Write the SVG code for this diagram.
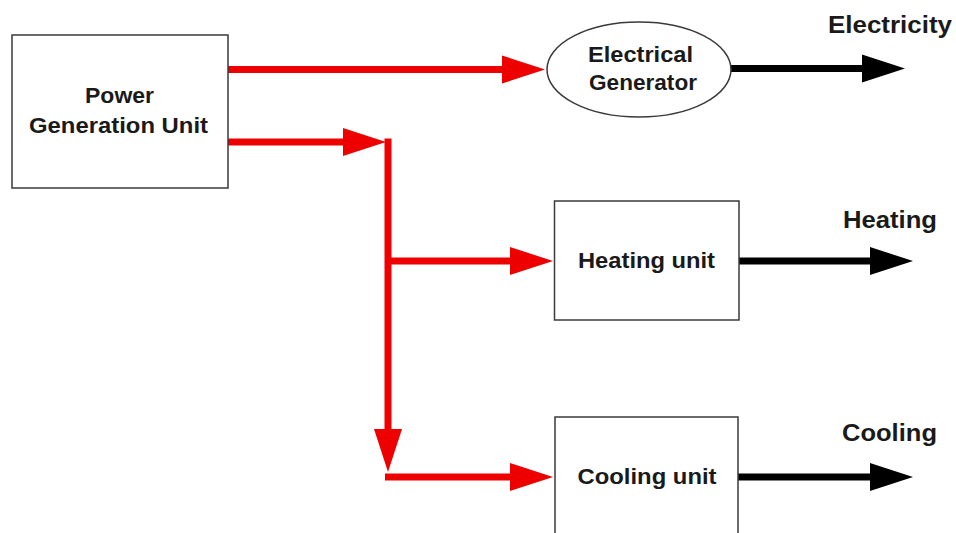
<svg xmlns="http://www.w3.org/2000/svg" width="956" height="533" viewBox="0 0 956 533">
  <style>
    .box { fill: #ffffff; stroke: #3a3a3a; stroke-width: 1.5; }
    .lbl { font-family: "Liberation Sans", Arial, sans-serif; font-weight: bold; font-size: 22px; fill: #1a1a1a; text-anchor: middle; }
    .out { font-family: "Liberation Sans", Arial, sans-serif; font-weight: bold; font-size: 24px; fill: #1a1a1a; }
    .red { stroke: #ef0000; stroke-width: 7; fill: none; }
    .blk { stroke: #000000; stroke-width: 7; fill: none; stroke-linecap: round; }
  </style>
  <defs>
    <marker id="ahRed" markerUnits="userSpaceOnUse" markerWidth="44" markerHeight="30" viewBox="0 0 44 30" refX="3" refY="15" orient="auto">
      <path d="M0,1 L43,15 L0,29 z" fill="#ef0000"/>
    </marker>
    <marker id="ahBlk" markerUnits="userSpaceOnUse" markerWidth="44" markerHeight="30" viewBox="0 0 44 30" refX="3" refY="15" orient="auto">
      <path d="M0,1 L43,15 L0,29 z" fill="#000000"/>
    </marker>
  </defs>
  <rect width="956" height="533" fill="#ffffff"/>

  <g id="connectors">
    <line class="red" x1="228" y1="69.5" x2="505" y2="69.5" marker-end="url(#ahRed)"/>
    <line class="red" x1="228" y1="142" x2="346" y2="142" marker-end="url(#ahRed)"/>
    <line class="red" x1="388" y1="138.5" x2="388" y2="432" marker-end="url(#ahRed)"/>
    <line class="red" x1="388" y1="261" x2="513" y2="261" marker-end="url(#ahRed)"/>
    <line class="red" x1="385" y1="477" x2="513" y2="477" marker-end="url(#ahRed)"/>
    <line class="blk" x1="731" y1="68.5" x2="865" y2="68.5" marker-end="url(#ahBlk)"/>
    <line class="blk" x1="739" y1="261" x2="873" y2="261" marker-end="url(#ahBlk)"/>
    <line class="blk" x1="739" y1="477" x2="873" y2="477" marker-end="url(#ahBlk)"/>
  </g>

  <g id="pgu">
    <rect class="box" x="12" y="35" width="216" height="153"/>
    <text class="lbl" x="119.5" y="103" textLength="69" lengthAdjust="spacingAndGlyphs">Power</text>
    <text class="lbl" x="118.5" y="133" textLength="179" lengthAdjust="spacingAndGlyphs">Generation Unit</text>
  </g>

  <g id="generator">
    <ellipse class="box" cx="639" cy="69.5" rx="92" ry="47.5"/>
    <text class="lbl" x="640.5" y="62" textLength="105" lengthAdjust="spacingAndGlyphs">Electrical</text>
    <text class="lbl" x="643" y="90" textLength="108" lengthAdjust="spacingAndGlyphs">Generator</text>
  </g>

  <g id="heating-unit">
    <rect class="box" x="554.5" y="201" width="184.5" height="119"/>
    <text class="lbl" x="646.5" y="268" textLength="137" lengthAdjust="spacingAndGlyphs">Heating unit</text>
  </g>

  <g id="cooling-unit">
    <rect class="box" x="555" y="417" width="183" height="130"/>
    <text class="lbl" x="647" y="484" textLength="139" lengthAdjust="spacingAndGlyphs">Cooling unit</text>
  </g>

  <g id="outputs">
    <text class="out" x="828" y="33" textLength="124" lengthAdjust="spacingAndGlyphs">Electricity</text>
    <text class="out" x="843" y="228" textLength="94" lengthAdjust="spacingAndGlyphs">Heating</text>
    <text class="out" x="842" y="441" textLength="95" lengthAdjust="spacingAndGlyphs">Cooling</text>
  </g>
</svg>
